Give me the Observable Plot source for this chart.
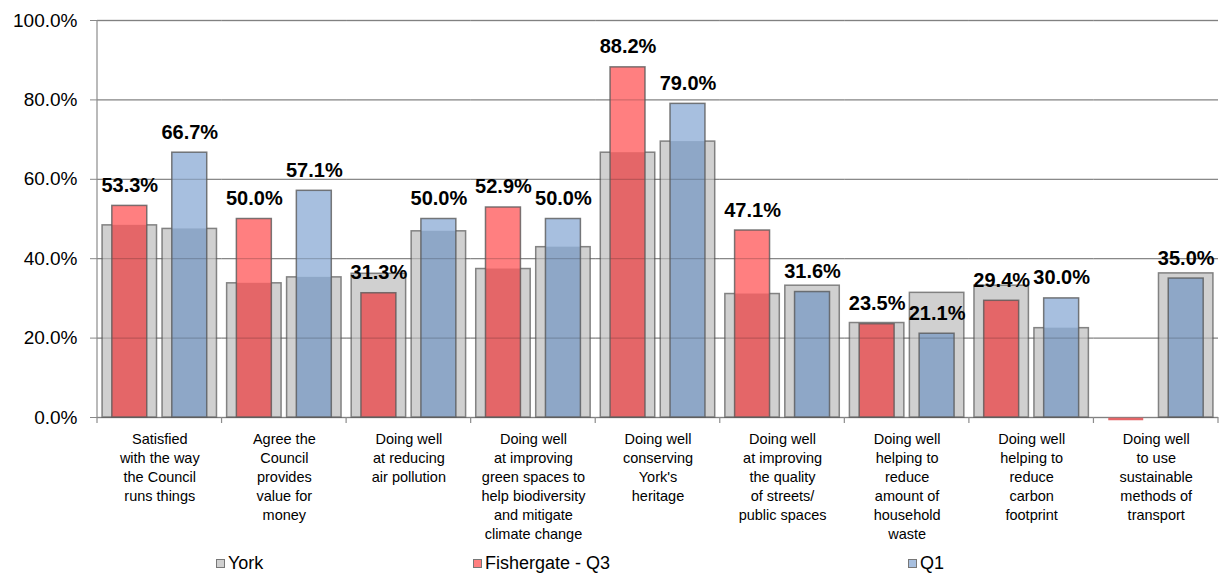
<!DOCTYPE html>
<html><head><meta charset="utf-8">
<script src="https://cdn.jsdelivr.net/npm/d3@7"></script>
<script src="https://cdn.jsdelivr.net/npm/@observablehq/plot@0.6"></script>
<style>
body{margin:0;background:#fff;font-family:"Liberation Sans",Arial,sans-serif;}
#wrap{position:relative;width:1222px;height:573px;overflow:hidden;}
#legend{position:absolute;top:553px;left:0;width:1222px;height:21px;font-size:18px;color:#000;}
.item{position:absolute;top:0;height:21px;display:flex;align-items:center;white-space:nowrap;}
.sw{width:7px;height:7px;border:1px solid #777;margin-right:3px;}
</style></head><body>
<div id="wrap"><div id="chart"></div><div id="legend"></div></div>
<script>
const categories = [
  "Satisfied\nwith the way\nthe Council\nruns things",
  "Agree the\nCouncil\nprovides\nvalue for\nmoney",
  "Doing well\nat reducing\nair pollution",
  "Doing well\nat improving\ngreen spaces to\nhelp biodiversity\nand mitigate\nclimate change",
  "Doing well\nconserving\nYork's\nheritage",
  "Doing well\nat improving\nthe quality\nof streets/\npublic spaces",
  "Doing well\nhelping to\nreduce\namount of\nhousehold\nwaste",
  "Doing well\nhelping to\nreduce\ncarbon\nfootprint",
  "Doing well\nto use\nsustainable\nmethods of\ntransport"
];
const series = ["Fishergate - Q3", "Q1"];
const fishergateQ3 = [53.3, 50.0, 31.3, 52.9, 88.2, 47.1, 23.5, 29.4, 0.0];
const q1 = [66.7, 57.1, 50.0, 50.0, 79.0, 31.6, 21.1, 30.0, 35.0];
const yorkBehindFishergate = [48.4, 33.8, 36.2, 37.4, 66.7, 31.1, 23.8, 33.2, null];
const yorkBehindQ1 = [47.5, 35.3, 46.9, 42.9, 69.5, 33.2, 31.4, 22.5, 36.3];
const yTicks = [0, 20, 40, 60, 80, 100];
const legendItems = ["York", "Fishergate - Q3", "Q1"];

const lightFill = {"Fishergate - Q3": "#ff7f80", "Q1": "#a7bfdf"};
const darkFill = {"Fishergate - Q3": "#e46668", "Q1": "#8ea7c7"};
const legendFill = {"York": "#d0d0d0", "Fishergate - Q3": "#ff7f80", "Q1": "#a7bfdf"};

const rows = [];
categories.forEach((c, i) => {
  rows.push({cat: c, series: series[0], value: fishergateQ3[i], york: yorkBehindFishergate[i]});
  rows.push({cat: c, series: series[1], value: q1[i], york: yorkBehindQ1[i]});
});

const plot = Plot.plot({
  width: 1222,
  height: 548,
  marginTop: 20,
  marginBottom: 131,
  marginLeft: 97,
  marginRight: 4,
  style: {fontFamily: '"Liberation Sans", Arial, sans-serif', color: "#000", background: "#fff"},
  fx: {domain: categories, padding: 0, round: false, label: null},
  x: {domain: series, paddingInner: 0.092, paddingOuter: 0.0845, round: false, axis: null},
  y: {domain: [0, 100], label: null},
  marks: [
    Plot.ruleY(yTicks, {stroke: "#a6a6a6", strokeWidth: 1.3}),
    Plot.barY(rows.filter(d => d.york != null), {
      fx: "cat", x: "series", y: "york",
      fill: "#d0d0d0", stroke: "#707070", strokeOpacity: 0.85, strokeWidth: 1.5
    }),
    Plot.barY(rows, {
      fx: "cat", x: "series", y: "value",
      fill: d => lightFill[d.series], insetLeft: 9.75, insetRight: 9.75
    }),
    Plot.barY(rows, {
      fx: "cat", x: "series", y: d => Math.min(d.value, d.york ?? 0),
      fill: d => darkFill[d.series], insetLeft: 9.75, insetRight: 9.75
    }),
    Plot.ruleY(yTicks, {stroke: "#000", strokeOpacity: 0.22, strokeWidth: 1}),
    Plot.barY(rows, {
      fx: "cat", x: "series", y: "value",
      fill: "none", stroke: "#5a5a5a", strokeOpacity: 0.8, strokeWidth: 1.5,
      insetLeft: 9.75, insetRight: 9.75
    }),
    Plot.tickY(rows.filter(d => d.value === 0), {
      fx: "cat", x: "series", y: "value",
      stroke: d => darkFill[d.series], strokeWidth: 2.5, dy: 1.5,
      insetLeft: 9.75, insetRight: 9.75
    }),
    Plot.text(rows.filter(d => d.value > 0), {
      fx: "cat", x: "series", y: "value",
      text: d => d.value.toFixed(1) + "%",
      dy: -14, lineAnchor: "bottom",
      fontSize: 20, fontWeight: "bold", fill: "#000"
    }),
    Plot.axisY({
      ticks: yTicks, tickFormat: d => d.toFixed(1) + "%",
      tickSize: 7, tickPadding: 13, fontSize: 19, stroke: "#888", fill: "#000"
    }),
    Plot.axisFx({
      anchor: "bottom", tickSize: 0, tickPadding: 13, fontSize: 14.5,
      lineHeight: 1.31, label: null, fill: "#000"
    })
  ]
});

document.getElementById("chart").appendChild(plot);

// y axis line and category boundary ticks, derived from the plot's scales
const fxS = plot.scale("fx");
const yS = plot.scale("y");
const svg = d3.select(plot);
const y0 = yS.apply(0), y100 = yS.apply(100);
const starts = categories.map(c => fxS.apply(c));
const bounds = starts.concat([starts[starts.length - 1] + fxS.bandwidth]);
const g = svg.append("g").attr("stroke", "#8c8c8c").attr("stroke-width", 1.2);
g.append("line").attr("x1", bounds[0]).attr("x2", bounds[0]).attr("y1", y100).attr("y2", y0);
bounds.forEach(b => g.append("line").attr("x1", b).attr("x2", b).attr("y1", y0).attr("y2", y0 + 6));

// legend
const legendX = {"York": 216, "Fishergate - Q3": 473, "Q1": 908};
const leg = d3.select("#legend");
legendItems.forEach(name => {
  const it = leg.append("div").attr("class", "item").style("left", legendX[name] + "px");
  it.append("div").attr("class", "sw").style("background", legendFill[name]);
  it.append("span").text(name);
});
</script>
</body></html>
